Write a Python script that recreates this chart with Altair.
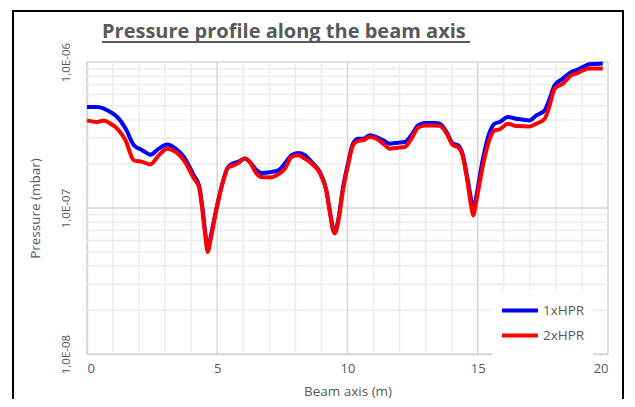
import altair as alt
import pandas as pd

# ---- data (pressure in units of 1e-7 mbar) ----
beam_x = [0.0, 0.4, 0.65, 0.9, 1.16, 1.48, 1.80, 2.12, 2.44, 2.76, 3.08, 3.40, 3.72, 4.10, 4.30,
          4.42, 4.55, 4.64, 4.72, 4.98, 5.23, 5.42, 5.61, 5.80, 6.06, 6.25, 6.51, 6.70, 7.02, 7.34,
          7.60, 7.85, 8.10, 8.36, 8.62, 8.94, 9.19, 9.32, 9.45, 9.51, 9.64, 9.83, 10.02, 10.21,
          10.41, 10.60, 10.86, 11.11, 11.37, 11.62, 11.94, 12.20, 12.45, 12.71, 12.97, 13.35,
          13.54, 13.80, 14.05, 14.24, 14.43, 14.56, 14.76, 14.82, 14.95, 15.20, 15.46, 15.65,
          15.84, 16.16, 16.48, 16.99, 17.25, 17.57, 17.76, 17.95, 18.27, 18.59, 18.78, 19.04,
          19.29, 19.80]

hpr1 = [4.92, 4.92, 4.80, 4.54, 4.20, 3.50, 2.69, 2.49, 2.32, 2.55, 2.72, 2.55, 2.24, 1.67, 1.43,
        1.04, 0.65, 0.51, 0.60, 1.01, 1.55, 1.91, 2.02, 2.07, 2.18, 2.07, 1.81, 1.74, 1.76, 1.81,
        2.02, 2.30, 2.38, 2.30, 2.07, 1.76, 1.32, 0.96, 0.72, 0.685, 0.82, 1.39, 2.02, 2.76,
        2.98, 2.98, 3.15, 3.06, 2.91, 2.76, 2.80, 2.83, 3.15, 3.68, 3.82, 3.82,
        3.78, 3.32, 2.76, 2.69, 2.30, 1.76, 1.10, 0.94, 1.22, 2.18, 3.32, 3.78,
        3.88, 4.20, 4.09, 3.98, 4.31, 4.67, 5.61, 6.92, 7.70, 8.54, 8.77, 9.24,
        9.64, 9.75]

hpr2 = [3.98, 3.88, 3.98, 3.78, 3.50, 2.91, 2.12, 2.07, 1.99, 2.30, 2.55, 2.42, 2.12, 1.60, 1.39,
        1.00, 0.63, 0.50, 0.58, 1.00, 1.53, 1.90, 1.95, 2.03, 2.18, 2.06, 1.72, 1.63, 1.62, 1.70,
        1.86, 2.24, 2.30, 2.18, 2.02, 1.73, 1.30, 0.94, 0.70, 0.67, 0.80, 1.34, 1.96, 2.69,
        2.88, 2.91, 3.06, 2.98, 2.76, 2.55, 2.59, 2.62, 2.98, 3.55, 3.68, 3.68,
        3.65, 3.25, 2.69, 2.61, 2.24, 1.70, 1.00, 0.89, 1.13, 1.96, 2.98, 3.40,
        3.46, 3.78, 3.64, 3.62, 3.78, 4.09, 5.05, 6.57, 7.11, 8.11, 8.33, 8.77,
        9.01, 9.01]

series_names = ["1xHPR", "2xHPR"]
series_colors = ["#0000ff", "#ff0000"]

x_major = [5, 10, 15]
x_minor = [1, 2, 3, 4, 6, 7, 8, 9, 11, 12, 13, 14, 16, 17, 18, 19]
y_major = [1e-7]
y_minor = [m * 1e-8 for m in range(2, 10)] + [m * 1e-7 for m in range(2, 10)]
y_ticks = [1e-8, 1e-7, 1e-6]

TITLE = "Pressure profile along the beam axis"
X_TITLE = "Beam axis (m)"
Y_TITLE = "Pressure (mbar)"

FONT = "Open Sans"
GRAY = "#595959"

rows = []
for name, vals in zip(series_names, [hpr1, hpr2]):
    for xv, v in zip(beam_x, vals):
        rows.append({"x": xv, "p": v * 1e-7, "series": name})
df = pd.DataFrame(rows)

W, H = 521, 292
xs = alt.Scale(domain=[0, 20], nice=False)
ys = alt.Scale(type="log", domain=[1e-8, 1e-6], nice=False)

vminor = alt.Chart(pd.DataFrame({"x": x_minor})).mark_rule(color="#ececec", strokeWidth=1.5).encode(
    x=alt.X("x:Q", scale=xs))
vmajor = alt.Chart(pd.DataFrame({"x": x_major})).mark_rule(color="#d6d6d6", strokeWidth=1.5).encode(
    x=alt.X("x:Q", scale=xs))
hminor = alt.Chart(pd.DataFrame({"y": y_minor})).mark_rule(color="#ececec", strokeWidth=1.5).encode(
    y=alt.Y("y:Q", scale=ys))
hmajor = alt.Chart(pd.DataFrame({"y": y_major})).mark_rule(color="#d6d6d6", strokeWidth=1.5).encode(
    y=alt.Y("y:Q", scale=ys))

lines = alt.Chart(df).mark_line(strokeWidth=4, interpolate="monotone").encode(
    x=alt.X("x:Q", scale=xs,
            axis=alt.Axis(title=X_TITLE, values=[0, 5, 10, 15, 20], grid=False, ticks=False,
                          labelPadding=8, labelFontSize=13, labelColor=GRAY, labelFont=FONT,
                          domainColor="#d6d6d6", domainWidth=1.5,
                          titleFont=FONT, titleFontSize=13.5, titleColor=GRAY, titleFontWeight="normal",
                          titleX=W / 2, titleY=37, titleBaseline="middle")),
    y=alt.Y("p:Q", scale=ys,
            axis=alt.Axis(title=Y_TITLE, values=y_ticks, grid=False, ticks=False,
                          labelExpr="'1,0E-0' + round(-log(datum.value)/LN10)",
                          labelAngle=270, labelAlign="center", labelBaseline="middle",
                          labelPadding=21, labelFontSize=11.5, labelColor=GRAY, labelFont=FONT,
                          domainColor="#d6d6d6", domainWidth=1.5,
                          titleFont=FONT, titleFontSize=13.5, titleColor=GRAY, titleFontWeight="normal",
                          titleAngle=270, titleX=-52, titleY=H / 2, titleAlign="center",
                          titleBaseline="middle")),
    color=alt.Color("series:N",
                    scale=alt.Scale(domain=series_names, range=series_colors),
                    legend=alt.Legend(title=None, orient="none", legendX=405, legendY=228,
                                      fillColor="white", padding=8, symbolType="stroke",
                                      symbolSize=1296, symbolStrokeWidth=4, clipHeight=25,
                                      rowPadding=0, labelFontSize=13.5, labelColor=GRAY,
                                      labelFont=FONT, labelOffset=3)),
)

one = pd.DataFrame({"t": [TITLE]})
title = alt.Chart(one).mark_text(align="left", baseline="alphabetic", font=FONT, fontSize=20,
                                 fontWeight="bold", color=GRAY).encode(
    x=alt.value(15), y=alt.value(-24), text="t:N")
underline = alt.Chart(one).mark_rule(color=GRAY, strokeWidth=2).encode(
    x=alt.value(15), x2=alt.value(383), y=alt.value(-20))
frame = alt.Chart(one).mark_rect(fillOpacity=0, stroke="black", strokeWidth=2).encode(
    x=alt.value(-74), x2=alt.value(536), y=alt.value(-51), y2=alt.value(400))

chart = alt.layer(vminor, hminor, vmajor, hmajor, lines, title, underline, frame).properties(
    width=W, height=H,
    autosize=alt.AutoSizeParams(type="none"),
    padding={"left": 79, "top": 54, "right": 19, "bottom": 45},
    background="white",
).configure_view(stroke="#d6d6d6", strokeWidth=1.5)

chart.save("out.html", embed_options={"renderer": "svg", "actions": False})
